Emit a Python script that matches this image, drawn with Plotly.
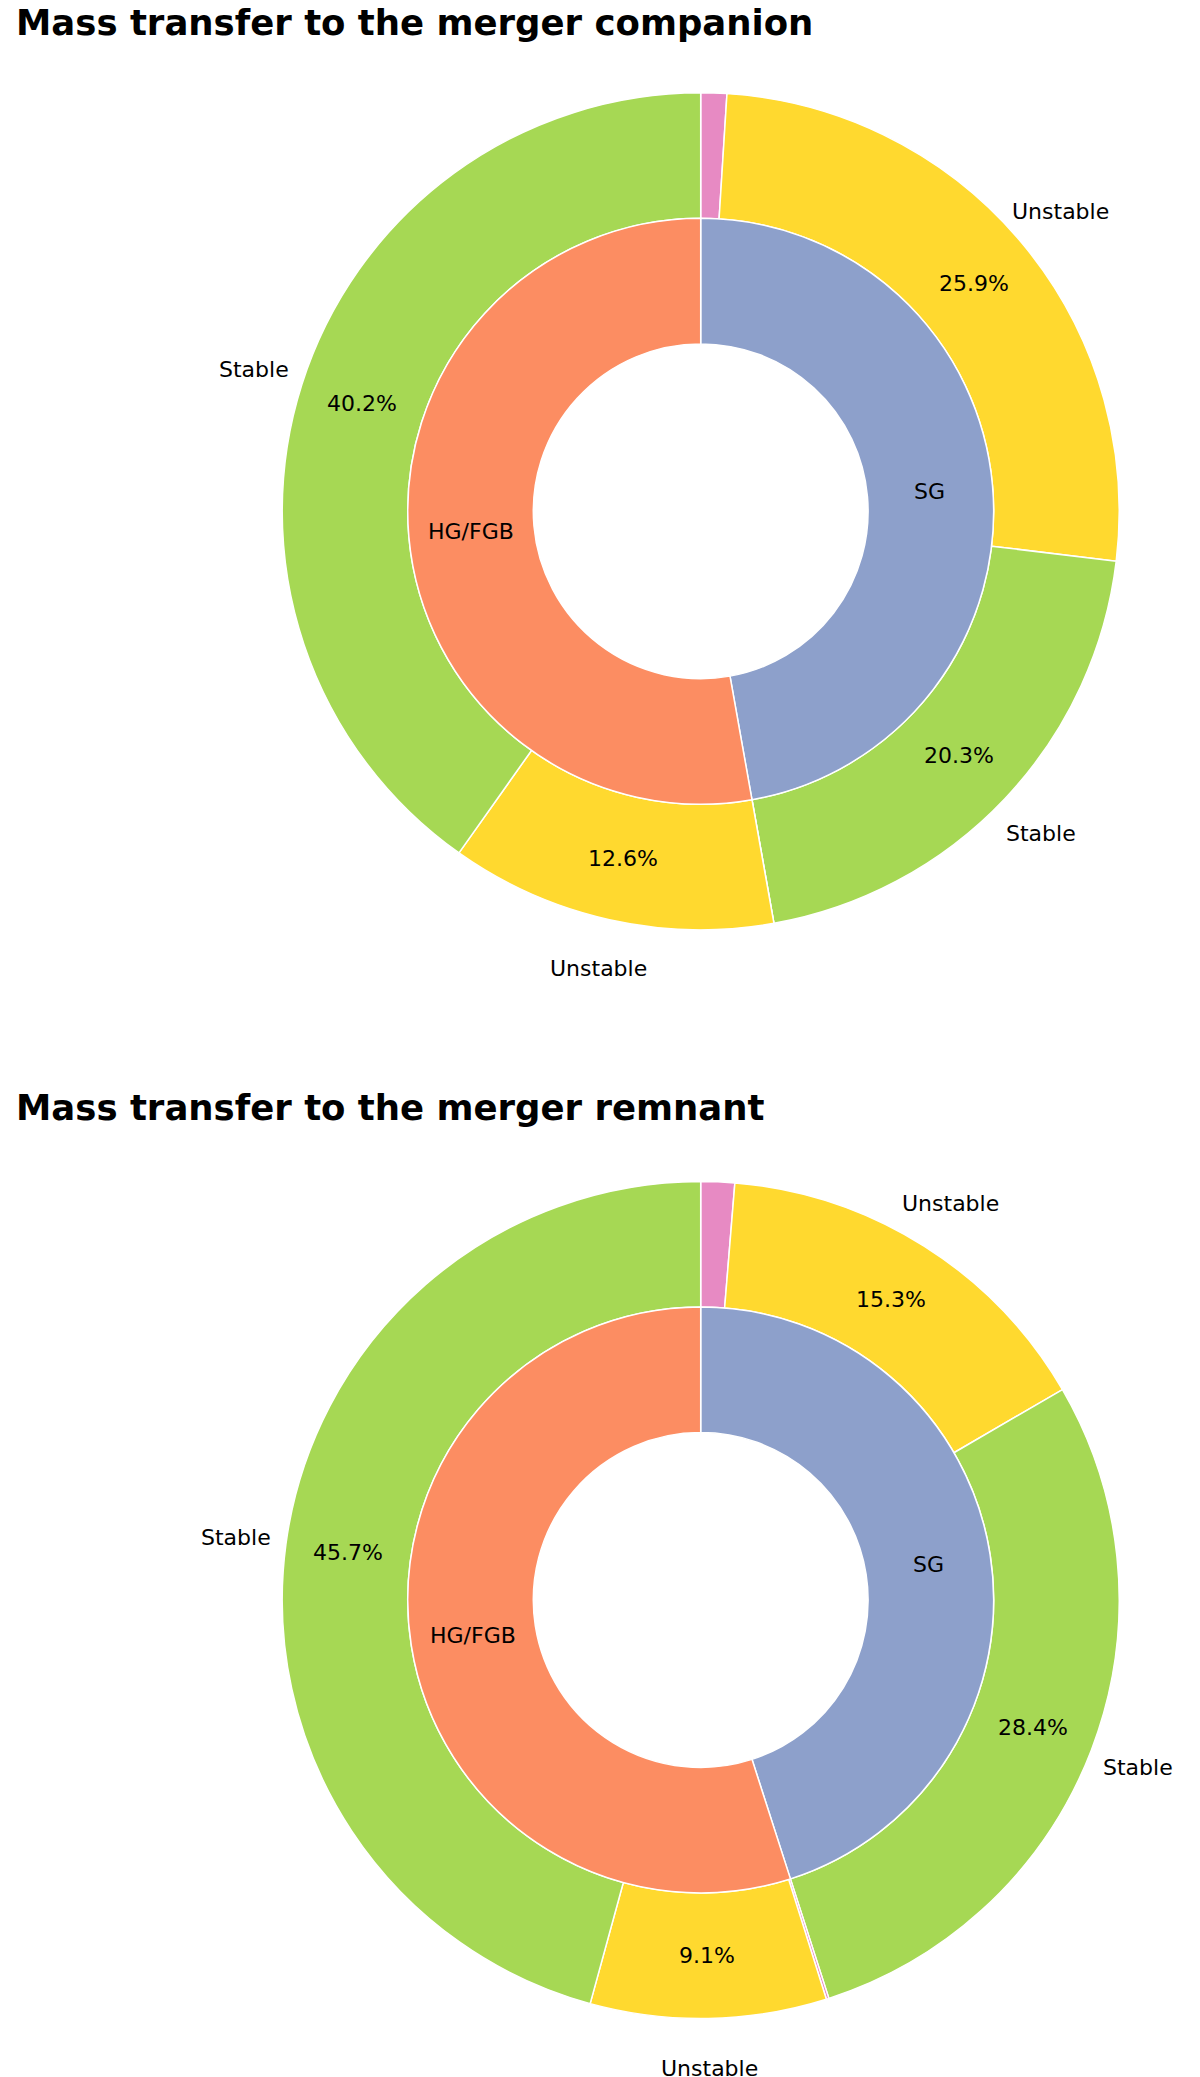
import math
import plotly.graph_objects as go

# inner ring: donor stellar type, outer ring: mass transfer stability
inner_labels = ["SG", "HG/FGB"]
outer_labels = ["Other", "Unstable", "Stable", "Other", "Unstable", "Stable"]
outer_ids = ["SG other", "SG unstable", "SG stable", "HG other", "HG unstable", "HG stable"]
outer_colors = ["#e78ac3", "#ffd92f", "#a6d854", "#e78ac3", "#ffd92f", "#a6d854"]
inner_colors = ["#8da0cb", "#fc8d62"]

# percentages per outer wedge (SG first, then HG/FGB)
companion_outer = [1.0, 25.9, 20.3, 0.0, 12.6, 40.2]
remnant_outer = [1.3, 15.3, 28.4, 0.1, 9.1, 45.7]

titles = ["Mass transfer to the merger companion", "Mass transfer to the merger remnant"]

# page body has an 8px margin, so the figure is a bit smaller than the window
OFF = 8
W, H = 1200 - OFF, 2077 - OFF
R = 418.5
CX = 700.7 - OFF
centers_y = [511.3 - OFF, 1600.0 - OFF]
title_y = [22 - OFF, 1107 - OFF]

fig = go.Figure()
annotations = []


def place(cy, r, frac):
    # frac: cumulative fraction of the circle measured clockwise from 12 o'clock
    ang = 2 * math.pi * frac
    x = CX + r * math.sin(ang)
    y = cy - r * math.cos(ang)
    return x / W, 1 - y / H


for k, outer in enumerate([companion_outer, remnant_outer]):
    cy = centers_y[k]
    inner = [sum(outer[:3]), sum(outer[3:])]
    total = sum(outer)

    dom_x = [(CX - R) / W, (CX + R) / W]
    dom_y = [1 - (cy + R) / H, 1 - (cy - R) / H]
    fig.add_trace(go.Pie(
        values=outer, labels=outer_ids, sort=False, direction="clockwise",
        rotation=0, hole=0.7, textinfo="none", hoverinfo="label+percent",
        marker=dict(colors=outer_colors, line=dict(color="white", width=1.5)),
        domain=dict(x=dom_x, y=dom_y), showlegend=False,
    ))

    r_in = 0.7 * R
    dom_x = [(CX - r_in) / W, (CX + r_in) / W]
    dom_y = [1 - (cy + r_in) / H, 1 - (cy - r_in) / H]
    fig.add_trace(go.Pie(
        values=inner, labels=inner_labels, sort=False, direction="clockwise",
        rotation=0, hole=0.4 / 0.7, textinfo="none", hoverinfo="label+percent",
        marker=dict(colors=inner_colors, line=dict(color="white", width=1.5)),
        domain=dict(x=dom_x, y=dom_y), showlegend=False,
    ))

    # outer labels + percentages
    cum = 0.0
    for lab, v in zip(outer_labels, outer):
        mid = (cum + v / 2) / total
        cum += v
        if lab == "Other" or v == 0:
            continue
        x, y = place(cy, 1.12 * R, mid)
        annotations.append(dict(x=x, y=y, text=lab, showarrow=False,
                                xanchor="center", yanchor="middle"))
        x, y = place(cy, 0.85 * R, mid)
        annotations.append(dict(x=x, y=y, text=f"{v:.1f}%", showarrow=False,
                                xanchor="center", yanchor="middle"))

    # inner labels
    cum = 0.0
    for lab, v in zip(inner_labels, inner):
        mid = (cum + v / 2) / total
        cum += v
        x, y = place(cy, 0.55 * R, mid)
        annotations.append(dict(x=x, y=y, text=lab, showarrow=False,
                                xanchor="center", yanchor="middle"))

    annotations.append(dict(x=(14 - OFF) / W, y=1 - title_y[k] / H, text=f"<b>{titles[k]}</b>",
                            showarrow=False, xanchor="left", yanchor="middle",
                            font=dict(size=35.5, color="black")))

fig.update_layout(
    width=W, height=H,
    margin=dict(l=0, r=0, t=0, b=0),
    paper_bgcolor="white", plot_bgcolor="white",
    font=dict(family="DejaVu Sans", size=22, color="black"),
    annotations=annotations,
)

fig.write_html("out.html")
